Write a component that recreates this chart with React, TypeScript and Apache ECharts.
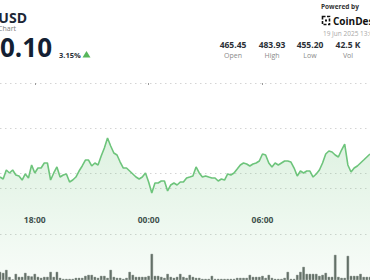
import React, { useEffect, useRef } from "react";
import * as echarts from "echarts";

// 10-minute price samples (USD), starting 16:10
const prices: number[] = [
  464.44, 464.22, 465.22, 464.89, 465.22, 464.67, 464.56, 464.11, 464.78, 464.33,
  465.78, 464.89, 465.44, 465.44, 466.0, 466.0, 464.11, 464.89, 465.56, 464.44,
  464.67, 464.78, 463.89, 464.11, 464.44, 465.11, 465.67, 466.33, 466.33, 465.67,
  466.0, 465.78, 466.78, 467.67, 468.78, 467.89, 467.11, 466.89, 466.11, 465.44,
  465.44, 465.11, 464.78, 464.44, 464.22, 464.44, 464.89, 463.89, 462.67, 463.78,
  463.78, 464.0, 464.0, 462.89, 463.56, 463.78, 463.56, 463.89, 463.89, 464.33,
  464.44, 464.56, 465.56, 464.89, 464.44, 464.56, 464.44, 464.33, 464.33, 464.0,
  464.22, 464.11, 464.78, 464.67, 464.89, 465.33, 465.78, 466.0, 465.89, 465.67,
  465.89, 466.0, 466.22, 467.0, 466.89, 466.0, 465.56, 466.0, 465.78, 466.0,
  466.22, 466.22, 466.11, 465.44, 464.56, 465.11, 464.89, 465.11, 465.11, 464.44,
  464.78, 465.22, 466.0, 467.0, 467.33, 467.22, 466.89, 466.67, 467.44, 468.11,
  465.78, 465.0, 465.44, 465.67, 466.0, 466.33, 466.67, 467.0,
];

// volume per 10-minute bucket (relative units)
const volumes: number[] = [
  8, 7, 10, 3, 0.5, 6, 3, 3, 7, 4,
  3.5, 6, 3, 2, 3, 3, 8, 3, 8, 2,
  1, 1, 1, 1, 2, 2, 2, 4, 5, 5,
  3, 2, 4, 4, 2, 10, 3, 2, 2, 1,
  2, 8, 5, 3, 3, 3, 3, 4, 26, 4,
  4, 3, 2, 6, 3, 2, 3, 6, 3, 2,
  5, 3, 2, 2, 1, 1, 1, 4, 1, 1,
  1, 1, 1, 1, 1, 2, 2, 2, 2, 5,
  3, 3, 3, 4, 2, 5, 2, 1, 1, 1,
  2, 8, 1, 1, 5, 8, 13, 6, 6, 6,
  6, 4, 5, 7, 3, 3, 25, 3, 2, 2,
  24, 4, 4, 4, 6, 3, 3, 3,
];

const startMinutes = 16 * 60 + 10;
const stepMinutes = 10;
const categories: string[] = prices.map((_, i) => {
  const m = (startMinutes + i * stepMinutes) % (24 * 60);
  const hh = String(Math.floor(m / 60)).padStart(2, "0");
  const mm = String(m % 60).padStart(2, "0");
  return `${hh}:${mm}`;
});
const tickLabels: string[] = ["18:00", "00:00", "06:00"];

const stats = [
  { value: "465.45", label: "Open" },
  { value: "483.93", label: "High" },
  { value: "455.20", label: "Low" },
  { value: "42.5 K", label: "Vol" },
];

const FONT = "'Open Sans', 'Noto Sans', sans-serif";

export default function App() {
  const ref = useRef<HTMLDivElement>(null);
  useEffect(() => {
    if (!ref.current) return;
    const chart = echarts.init(ref.current, undefined, { renderer: "svg" });
    const dotted = { color: "#d4d4d4", width: 1, type: [1.5, 3.5] as any };
    const statX = [233, 272, 310, 348];
    const graphic: any[] = [
      { type: "text", x: 27, y: 17.5, style: { text: "BCH-USD", font: `bold 14px ${FONT}`, lineHeight: 13, fill: "#1d2736", align: "right", verticalAlign: "middle" } },
      { type: "text", x: 16, y: 28.5, style: { text: "Price Chart", font: `7px ${FONT}`, lineHeight: 7, fill: "#7a7a7a", align: "right", verticalAlign: "middle" } },
      { type: "text", x: 52, y: 47, style: { text: "470.10", font: `bold 26px ${FONT}`, lineHeight: 24, fill: "#141f33", align: "right", verticalAlign: "middle" } },
      { type: "text", x: 59, y: 54.5, style: { text: "3.15%", font: `bold 7.5px ${FONT}`, fill: "#2a2f38", align: "left", verticalAlign: "middle" } },
      { type: "polygon", shape: { points: [[82.5, 57.5], [90.5, 57.5], [86.5, 51]] }, style: { fill: "#56b65b" } },
      { type: "text", x: 321, y: 6.5, style: { text: "Powered by", font: `bold 6.5px ${FONT}`, fill: "#333", align: "left", verticalAlign: "middle" } },
      { type: "rect", shape: { x: 322.5, y: 16.5, width: 7, height: 8 }, style: { fill: "none", stroke: "#111", lineWidth: 1.6, lineDash: [3, 1.5] } },
      { type: "rect", shape: { x: 325, y: 19.5, width: 2, height: 2 }, style: { fill: "#111" } },
      { type: "text", x: 333, y: 20.5, style: { text: "CoinDesk", font: `bold 10px ${FONT}`, fill: "#111", align: "left", verticalAlign: "middle" } },
      { type: "text", x: 323, y: 33, style: { text: "19 Jun 2025 13:00 UTC", font: `6.5px ${FONT}`, fill: "#a8a8a8", align: "left", verticalAlign: "middle" } },
    ];
    stats.forEach((s, i) => {
      graphic.push({ type: "text", x: statX[i], y: 44.5, style: { text: s.value, font: `bold 8.5px ${FONT}`, fill: "#2b2f36", align: "center", verticalAlign: "middle" } });
      graphic.push({ type: "text", x: statX[i], y: 55, style: { text: s.label, font: `7px ${FONT}`, fill: "#8a8a8a", align: "center", verticalAlign: "middle" } });
    });

    chart.setOption({
      animation: false,
      backgroundColor: "#ffffff",
      grid: [
        { left: -1, right: 0, top: 37, bottom: 0 },
        { left: -1, right: 0, top: 83, height: 90 },
        { left: -1, right: 0, top: 188, bottom: 0 },
      ],
      xAxis: [
        { type: "category", gridIndex: 0, data: categories, boundaryGap: false, show: false },
        {
          type: "category",
          gridIndex: 1,
          data: categories,
          boundaryGap: false,
          offset: 34,
          axisLine: { show: false },
          axisTick: {
            show: true,
            length: 2,
            lineStyle: { color: "#9a9a9a" },
            interval: (_i: number, v: string) => tickLabels.includes(v),
          },
          axisLabel: {
            margin: 8,
            fontSize: 8.5,
            fontWeight: "bold",
            fontFamily: FONT,
            color: "#3a3f47",
            interval: (_i: number, v: string) => tickLabels.includes(v),
          },
          splitLine: { show: false },
        },
        { type: "category", gridIndex: 2, data: categories, boundaryGap: false, show: false },
      ],
      yAxis: [
        { type: "value", gridIndex: 0, min: 453, max: 480, show: false },
        {
          type: "value",
          gridIndex: 1,
          inverse: true,
          min: 0,
          max: 2,
          interval: 1,
          axisLine: { show: false },
          axisTick: { show: false },
          axisLabel: { show: false },
          splitLine: { show: true, lineStyle: dotted },
        },
        {
          type: "value",
          gridIndex: 2,
          min: 0,
          max: 92,
          interval: 46,
          axisLine: { show: false },
          axisTick: { show: false },
          axisLabel: { show: false },
          splitLine: { show: true, showMinLine: false, lineStyle: dotted },
        },
      ],
      series: [
        {
          type: "line",
          xAxisIndex: 0,
          yAxisIndex: 0,
          data: prices,
          symbol: "none",
          lineStyle: { color: "#6dc47b", width: 1.6 },
          areaStyle: {
            color: new echarts.graphic.LinearGradient(0, 0, 0, 1, [
              { offset: 0, color: "rgba(108,196,122,0.32)" },
              { offset: 1, color: "rgba(108,196,122,0.07)" },
            ]),
          },
          z: 2,
        },
        {
          type: "bar",
          xAxisIndex: 2,
          yAxisIndex: 2,
          data: volumes,
          barWidth: 2.3,
          itemStyle: { color: "#66736a", borderColor: "#55625a", borderWidth: 0.4 },
          z: 3,
        },
      ],
      graphic,
    });
    return () => chart.dispose();
  }, []);
  return <div ref={ref} style={{ position: "fixed", left: 0, top: 0, width: 370, height: 280 }} />;
}
